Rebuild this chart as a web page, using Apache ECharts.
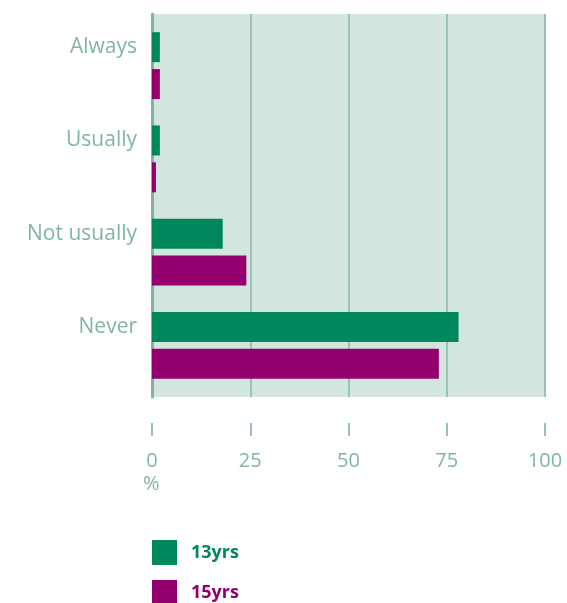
<!DOCTYPE html>
<html><head><meta charset="utf-8">
<script src="https://cdn.jsdelivr.net/npm/echarts@6/dist/echarts.min.js"></script>
<style>html,body{margin:0;padding:0;background:#fff}#c{width:567px;height:603px}</style>
</head><body><div id="c"></div>
<script>
const categories = ['Always', 'Usually', 'Not usually', 'Never'];
const series13 = [2, 2, 18, 78];
const series15 = [2, 1, 24, 73];
const tickValues = [0, 25, 50, 75, 100];
const seriesNames = ['13yrs', '15yrs'];

const labelColor = '#80b6a1';
const gridColor = '#96c3b2';
const green = '#00875d';
const purple = '#93006e';
const font = 'Open Sans';

const chart = echarts.init(document.getElementById('c'));
chart.setOption({
  animation: false,
  grid: [
    {left: 152, right: 22, top: 14, bottom: 206, show: true, backgroundColor: '#d3e5df', borderWidth: 0},
    {left: 152, right: 22, top: 19, bottom: 211},
    {left: 152, right: 22, top: 410, height: 13}
  ],
  xAxis: [
    {gridIndex: 0, type: 'value', min: tickValues[0], max: tickValues[tickValues.length-1], interval: 25,
     axisLine: {show: false}, axisTick: {show: false}, axisLabel: {show: false},
     splitLine: {show: true, lineStyle: {color: gridColor, width: 2}}},
    {gridIndex: 1, type: 'value', min: 0, max: 100, show: false},
    {gridIndex: 2, type: 'value', min: tickValues[0], max: tickValues[tickValues.length-1], interval: 25,
     position: 'bottom',
     axisLine: {show: false},
     axisTick: {show: true, length: 13, lineStyle: {color: gridColor, width: 2}},
     axisLabel: {margin: 28, color: labelColor, fontFamily: font, fontSize: 20},
     splitLine: {show: false}}
  ],
  yAxis: [
    {gridIndex: 0, type: 'value', min: 0, max: 1,
     axisLine: {show: true, lineStyle: {color: '#7fb39f', width: 3}},
     axisTick: {show: false}, axisLabel: {show: false}, splitLine: {show: false}},
    {gridIndex: 1, type: 'category', data: categories, inverse: true,
     axisLine: {show: false}, axisTick: {show: false}, splitLine: {show: false},
     axisLabel: {color: labelColor, fontFamily: font, fontSize: 21, margin: 15,
       verticalAlign: 'bottom', lineHeight: 37}},
    {gridIndex: 2, type: 'value', show: false}
  ],
  legend: [
    {orient: 'vertical', left: 147, top: 535, itemWidth: 25, itemHeight: 25, padding: 5,
     icon: 'rect', selectedMode: false,
     data: [{name: seriesNames[0]}],
     textStyle: {color: green, fontFamily: font, fontSize: 18, fontWeight: 'bold', padding: [0, 0, 0, 9]}},
    {orient: 'vertical', left: 147, top: 575, itemWidth: 25, itemHeight: 25, padding: 5,
     icon: 'rect', selectedMode: false,
     data: [{name: seriesNames[1]}],
     textStyle: {color: purple, fontFamily: font, fontSize: 18, fontWeight: 'bold', padding: [0, 0, 0, 9]}}
  ],
  graphic: [
    {type: 'text', left: 143, top: 474, style: {text: '%', fill: labelColor, font: '20px "Open Sans"'}}
  ],
  series: [
    {name: seriesNames[0], type: 'bar', xAxisIndex: 1, yAxisIndex: 1, data: series13,
     barWidth: 30, barGap: '23%', itemStyle: {color: green}},
    {name: seriesNames[1], type: 'bar', xAxisIndex: 1, yAxisIndex: 1, data: series15,
     barWidth: 30, barGap: '23%', itemStyle: {color: purple}}
  ]
});
</script></body></html>
